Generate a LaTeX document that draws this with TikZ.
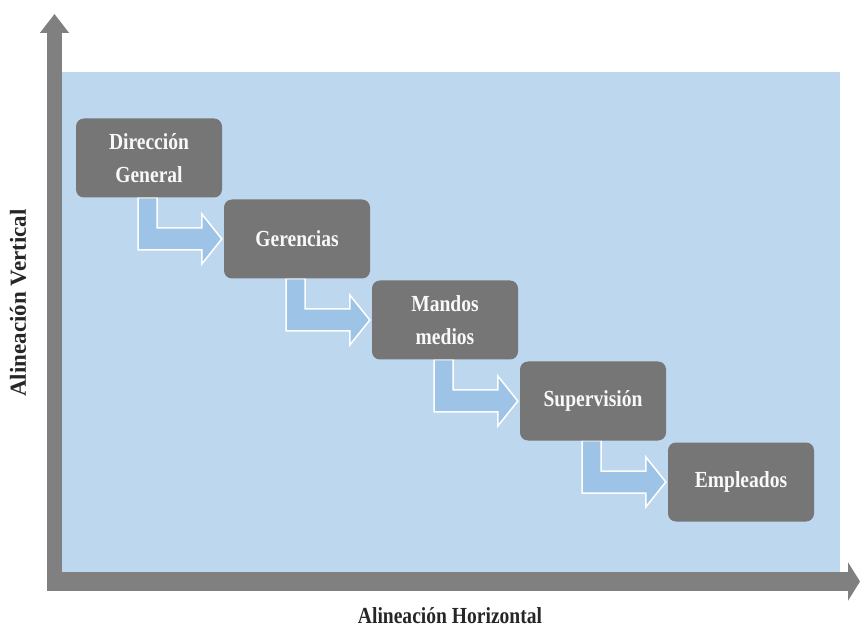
\documentclass[tikz,border=0pt]{standalone}
\usepackage{fontspec}
\usetikzlibrary{arrows.meta,calc,backgrounds}
\newfontfamily\boxfont[FakeStretch=0.85]{Liberation Serif}
\newfontfamily\axisfont{Liberation Serif}
\definecolor{panelblue}{RGB}{189,215,238}
\definecolor{boxgray}{RGB}{118,118,118}
\definecolor{axisgray}{RGB}{128,128,128}
\definecolor{arrowblue}{RGB}{157,195,230}
\newcommand{\stepArrow}[2]{%
  \fill[arrowblue, draw=white, line width=1.5pt, line join=miter]
    ($(#1.south)+(-11,0)$) |- ($(#2.west)+(-22,11)$) -- ++(0,14)
    -- ($(#2.west)+(-2,0)$) -- ++(-20,-25) -- ++(0,14)
    -| ($(#1.south)+(8,0)$) -- cycle;}

\begin{document}
\begin{tikzpicture}[x=1pt,y=-1pt,
  level/.style={rectangle, rounded corners=8pt, fill=boxgray, text=white!95!gray,
    minimum width=146pt, minimum height=79pt, align=center, inner sep=2pt,
    font={\boxfont\bfseries\fontsize{23}{33}\selectfont}},
  axislabel/.style={text=black!85, font={\bfseries\fontsize{23}{27}\selectfont}}]
\useasboundingbox (0,0) rectangle (860,628);
\node[level] (dir) at (149,158) {Dirección\\General};
\node[level] (ger) at (297,239) {Gerencias};
\node[level] (man) at (445,320) {Mandos\\medios};
\node[level] (sup) at (593,401) {Supervisión};
\node[level] (emp) at (741,482) {Empleados};
\begin{scope}[on background layer]
\fill[panelblue] (62,72) rectangle (840,572);
\stepArrow{dir}{ger}
\stepArrow{ger}{man}
\stepArrow{man}{sup}
\stepArrow{sup}{emp}
\end{scope}
% axes
\draw[axisgray, line width=15pt, -{Triangle[length=19pt,width=28pt]}] (54.5,591) -- (54.5,14);
\draw[axisgray, line width=19pt, -{Triangle[length=12pt,width=38pt]}] (47,581.5) -- (860,581.5);
\node[axislabel, font={\axisfont\bfseries\fontsize{23}{27}\selectfont}, rotate=90] (vlabel) at (18,303) {Alineación Vertical};
\node[axislabel, font={\boxfont\bfseries\fontsize{23}{27}\selectfont}, anchor=base] (hlabel) at (450,623) {Alineación Horizontal};
\end{tikzpicture}
\end{document}
